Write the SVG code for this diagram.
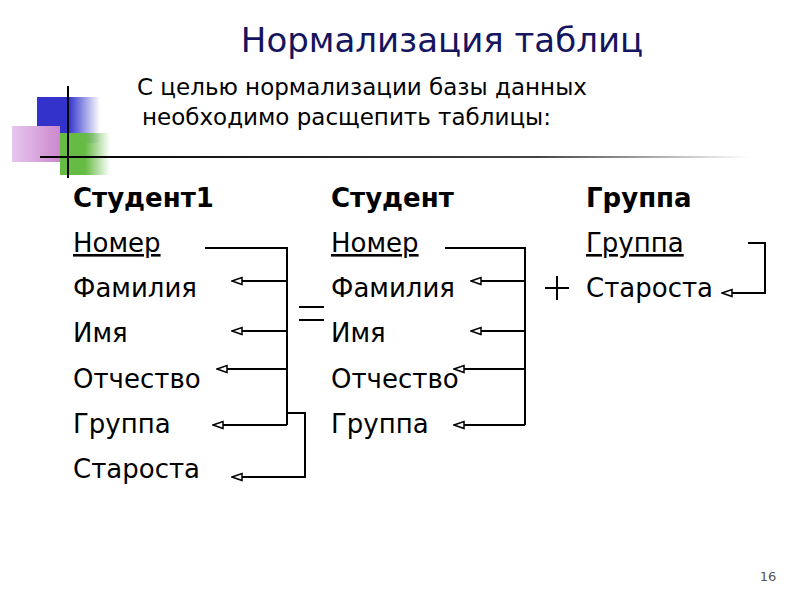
<svg xmlns="http://www.w3.org/2000/svg" width="800" height="600" viewBox="0 0 800 600">
<defs>
<linearGradient id="bl" x1="0" x2="1"><stop offset="0.5" stop-color="#3333cc"/><stop offset="1" stop-color="#3333cc" stop-opacity="0"/></linearGradient>
<linearGradient id="gr" x1="0" x2="1"><stop offset="0.5" stop-color="#66bb44"/><stop offset="1" stop-color="#66bb44" stop-opacity="0"/></linearGradient>
<linearGradient id="pk" x1="0" x2="1"><stop offset="0" stop-color="#e6c6ee"/><stop offset="1" stop-color="#cc88cc"/></linearGradient>
<linearGradient id="ln" x1="0" x2="1"><stop offset="0" stop-color="#000"/><stop offset="0.7" stop-color="#444"/><stop offset="1" stop-color="#fff"/></linearGradient>
<marker id="ar" viewBox="0 0 12 10" refX="11" refY="5" markerWidth="12" markerHeight="10" orient="auto" markerUnits="userSpaceOnUse"><path d="M1,1.5 L11,5 L1,8.5 Z" fill="#fff" stroke="#000" stroke-width="1.5" stroke-linejoin="miter"/></marker>
<style>
text{font-family:"DejaVu Sans",Verdana,sans-serif;fill:#000}
.t{font-size:26px}
.h{font-size:26px;font-weight:bold}
.c{fill:none;stroke:#000;stroke-width:2}
</style>
</defs>
<g id="deco">
<rect x="37" y="97" width="63" height="46" fill="url(#bl)"/>
<rect x="60" y="133" width="50" height="42" fill="url(#gr)"/>
<rect x="12" y="126" width="48" height="36" fill="url(#pk)"/>
<line x1="68" y1="86" x2="68" y2="178" stroke="#000" stroke-width="2"/>
<rect x="40" y="156" width="710" height="2" fill="url(#ln)"/>
</g>
<text x="442" y="52" text-anchor="middle" style="font-size:34px;fill:#15155f">Нормализация таблиц</text>
<text x="137" y="95" style="font-size:23px">С целью нормализации базы данных</text>
<text x="142" y="125" style="font-size:23px">необходимо расщепить таблицы:</text>
<g id="student1">
<text class="h" x="73" y="207">Студент1</text>
<text class="t" x="73" y="252" text-decoration="underline">Номер</text>
<text class="t" x="73" y="297">Фамилия</text>
<text class="t" x="73" y="342">Имя</text>
<text class="t" x="73" y="388">Отчество</text>
<text class="t" x="73" y="433">Группа</text>
<text class="t" x="73" y="478">Староста</text>
</g>
<g id="student">
<text class="h" x="331" y="207">Студент</text>
<text class="t" x="331" y="252" text-decoration="underline">Номер</text>
<text class="t" x="331" y="297">Фамилия</text>
<text class="t" x="331" y="342">Имя</text>
<text class="t" x="331" y="388">Отчество</text>
<text class="t" x="331" y="433">Группа</text>
</g>
<g id="group">
<text class="h" x="586" y="207">Группа</text>
<text class="t" x="586" y="252" text-decoration="underline">Группа</text>
<text class="t" x="586" y="297">Староста</text>
</g>
<g id="ops">
<line x1="299" y1="307" x2="324" y2="307" stroke="#000" stroke-width="2"/>
<line x1="299" y1="320" x2="324" y2="320" stroke="#000" stroke-width="2"/>
<line x1="545" y1="288" x2="569" y2="288" stroke="#000" stroke-width="2"/>
<line x1="557" y1="276" x2="557" y2="300" stroke="#000" stroke-width="2"/>
</g>
<g id="connectors">
<path class="c" d="M205,248 H287 V425"/>
<line class="c" x1="287" y1="281" x2="232" y2="281" marker-end="url(#ar)"/>
<line class="c" x1="287" y1="331" x2="232" y2="331" marker-end="url(#ar)"/>
<line class="c" x1="287" y1="369" x2="217" y2="369" marker-end="url(#ar)"/>
<line class="c" x1="287" y1="425" x2="213" y2="425" marker-end="url(#ar)"/>
<path class="c" d="M288,413 H305 V477 H232" marker-end="url(#ar)"/>
<path class="c" d="M445,248 H525 V425"/>
<line class="c" x1="525" y1="281" x2="471" y2="281" marker-end="url(#ar)"/>
<line class="c" x1="525" y1="331" x2="471" y2="331" marker-end="url(#ar)"/>
<line class="c" x1="525" y1="369" x2="454" y2="369" marker-end="url(#ar)"/>
<line class="c" x1="525" y1="425" x2="454" y2="425" marker-end="url(#ar)"/>
<path class="c" d="M748,243 H765 V293 H722" marker-end="url(#ar)"/>
</g>
<text x="768" y="581" text-anchor="middle" style="font-size:13px;fill:#555">16</text>
</svg>
